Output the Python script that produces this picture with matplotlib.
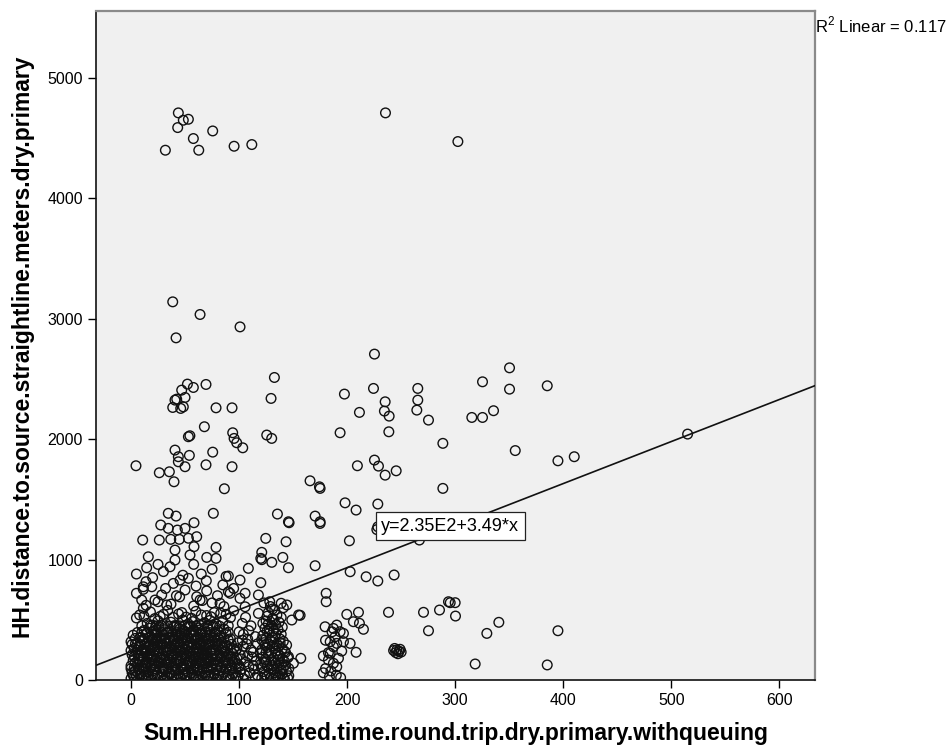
import numpy as np
import matplotlib
matplotlib.use("Agg")
import matplotlib.pyplot as plt

plt.rcParams['font.family'] = ['Liberation Sans', 'DejaVu Sans']
plt.rcParams['mathtext.fontset'] = 'custom'
plt.rcParams['mathtext.rm'] = 'Liberation Sans'

# fit reported by SPSS
intercept = 235.0
slope = 3.49
r2_text = r'R$^\mathrm{2}$ Linear = 0.117'
eq_text = 'y=2.35E2+3.49*x'

x_label = 'Sum.HH.reported.time.round.trip.dry.primary.withqueuing'
y_label = 'HH.distance.to.source.straightline.meters.dry.primary'
x_ticks = [0, 100, 200, 300, 400, 500, 600]
y_ticks = [0, 1000, 2000, 3000, 4000, 5000]

# far outliers (distance > 2500)
high_pts = [
    (43.8, 4709), (48.4, 4648), (53.1, 4656), (43.2, 4587), (57.7, 4496),
    (75.6, 4559), (31.8, 4399), (62.7, 4399), (95.4, 4432), (111.8, 4446),
    (235.5, 4709), (302.5, 4471), (38.6, 3140), (63.9, 3035), (100.9, 2932),
    (41.7, 2841), (225.3, 2706), (350.3, 2592), (132.7, 2512),
]

# middle band 1000 - 2500
mid_pts = [
    (129.6, 2338), (52.2, 2457), (46.9, 2407), (57.7, 2429), (69.4, 2454),
    (42.3, 2332), (38.6, 2263), (46.0, 2255), (50.0, 2346), (40.7, 2324),
    (48.4, 2268), (78.7, 2260), (93.5, 2260), (197.5, 2374), (224.4, 2421),
    (235.2, 2310), (234.5, 2233), (238.9, 2191), (211.4, 2222), (265.4, 2421),
    (265.4, 2324), (264.5, 2241), (275.3, 2158), (325.3, 2476), (385.2, 2443),
    (350.3, 2415), (315.4, 2180), (325.3, 2180), (335.5, 2236), (67.9, 2103),
    (53.1, 2020), (54.5, 2028), (94.1, 2053), (95.4, 2006), (97.8, 1970),
    (103.4, 1928), (125.6, 2034), (130.2, 2006), (193.5, 2053), (238.6, 2061),
    (288.6, 1965), (355.6, 1905), (395.1, 1820), (410.2, 1854), (515.1, 2042),
    (40.7, 1909), (43.8, 1812), (54.0, 1865), (50.0, 1771), (43.8, 1854),
    (75.6, 1892), (69.4, 1787), (93.5, 1771), (4.6, 1779), (26.2, 1721),
    (35.5, 1729), (39.8, 1646), (86.4, 1588), (209.5, 1779), (225.3, 1826),
    (229.0, 1776), (235.2, 1701), (245.4, 1737), (288.6, 1591), (165.7, 1654),
    (174.4, 1604), (175.0, 1591), (198.1, 1471), (208.3, 1411), (228.4, 1461),
    (228.4, 1272), (227.5, 1249), (202.1, 1156), (76.2, 1384), (135.5, 1378),
    (145.7, 1314), (170.4, 1361), (175.0, 1314), (34.5, 1384), (41.7, 1361),
    (27.5, 1287), (34.5, 1259), (42.9, 1245), (50.0, 1259), (58.3, 1306),
    (60.8, 1190), (53.1, 1177), (44.7, 1168), (36.8, 1168), (26.2, 1162),
    (10.8, 1162), (40.7, 1079), (54.6, 1038), (58.3, 1107), (78.7, 1101),
    (70.1, 1018), (78.7, 1010), (124.7, 1176), (121.0, 1060), (120.1, 1010),
    (140.5, 1018), (143.5, 1148), (146.3, 1306), (266.9, 1162), (175.0, 1300),
    (16.0, 1023), (40.7, 996), (121.0, 999), (130.3, 977),
]

# sparse points below 1000
low_pts = [
    (14.5, 932), (36.1, 940), (145.7, 932), (170.4, 949), (108.6, 927),
    (202.8, 899), (217.6, 857), (228.4, 822), (243.5, 872), (293.8, 650),
    (285.5, 581), (270.7, 562), (275.3, 409), (238.3, 562), (180.6, 720),
    (180.6, 650), (199.7, 545), (210.5, 562), (205.8, 484), (215.1, 421),
    (208.3, 230), (295.4, 642), (300.0, 642), (300.3, 531), (318.5, 133),
    (329.3, 387), (340.4, 479), (385.2, 125), (395.1, 409), (90.1, 863),
    (100.9, 830), (120.1, 808), (69.7, 824), (13.9, 816), (11.4, 774),
    (19.2, 774), (39.2, 802), (45.4, 830), (53.1, 844), (60.2, 780),
    (9.9, 664), (11.4, 595), (22.2, 664), (33.0, 623), (50.0, 747),
    (63.9, 664), (82.4, 637), (91.7, 720), (105.6, 720), (117.9, 706),
    (144.2, 623), (155.1, 540), (11.4, 753), (28.4, 706), (60.8, 691),
    (90.1, 733), (100.9, 678), (128.4, 650), (139.0, 637), (117.9, 553),
    (105.6, 608), (148.8, 498), (145.7, 193), (157.1, 180), (150.3, 139),
    (141.0, 19), (183.6, 27), (190.4, 110), (184.3, 222), (187.3, 276),
    (196.6, 387), (190.4, 456), (179.6, 442), (188.9, 359), (182.7, 166),
    (187.3, 428), (193.5, 401), (184.3, 318), (190.4, 304), (196.6, 318),
    (202.8, 304), (182.7, 227), (187.3, 139), (156.5, 537), (211.4, 471),
    (178.0, 60), (180.0, 95), (185.0, 75), (190.0, 40), (194.0, 20),
    (192.0, 180), (178.0, 200), (195.0, 240), (180.0, 330), (186.0, 400),
    (244.0, 262), (246.0, 250), (248.0, 238), (245.0, 228), (247.0, 218),
    (249.0, 255), (243.0, 245), (250.0, 232),
    (5, 880), (20, 850), (30, 900), (48, 870), (65, 880), (75, 920),
    (85, 790), (95, 760), (25, 960), (58, 960), (32, 760), (70, 740),
    (80, 700), (5, 720), (42, 700), (88, 860),
]

# dense block of short trips close to the source
dense_pts = [
    (0, 12), (3, 20), (7, 8), (10, 25), (14, 15), (19, 5), (22, 30), (27, 18),
    (31, 10), (34, 22), (38, 28), (43, 6), (46, 16), (50, 35), (55, 12), (58, 24),
    (62, 9), (67, 19), (71, 31), (74, 14), (79, 7), (83, 26), (88, 17), (92, 11),
    (97, 20),
    (2, 42), (5, 36), (9, 45), (12, 33), (16, 40), (20, 47), (24, 38), (29, 44),
    (33, 35), (36, 48), (40, 41), (45, 32), (48, 46), (52, 39), (57, 43), (60, 34),
    (65, 47), (69, 40), (72, 36), (77, 45), (81, 38), (85, 44), (90, 33), (94, 42),
    (1, 60), (4, 75), (9, 52), (12, 88), (16, 66), (21, 80), (24, 55), (29, 70),
    (32, 90), (36, 62), (41, 78), (44, 50), (48, 85), (53, 68), (56, 58), (61, 82),
    (64, 73), (69, 61), (72, 87), (77, 54), (81, 77), (86, 65), (91, 83), (95, 59),
    (0, 95), (3, 101), (7, 92), (11, 98), (14, 90), (18, 103), (22, 94), (27, 99),
    (30, 91), (34, 104), (38, 96), (43, 92), (46, 100), (50, 95), (55, 102),
    (58, 93), (62, 98), (67, 91), (70, 103), (74, 97), (79, 94), (83, 100),
    (88, 92), (93, 99), (97, 95),
    (0, 118), (6, 132), (10, 105), (14, 140), (18, 122), (23, 110), (26, 135),
    (30, 101), (35, 128), (39, 114), (42, 138), (47, 108), (51, 125), (54, 142),
    (59, 112), (63, 130), (66, 104), (70, 136), (75, 119), (79, 127), (84, 109),
    (88, 141), (93, 121), (98, 133),
    (4, 145), (8, 150), (13, 142), (17, 148), (21, 144), (25, 151), (28, 146),
    (33, 143), (37, 149), (40, 145), (45, 152), (48, 141), (53, 147), (57, 150),
    (60, 143), (65, 148), (69, 145), (72, 151), (76, 142), (81, 149), (85, 146),
    (90, 144), (94, 150),
    (2, 160), (7, 178), (11, 152), (15, 188), (19, 170), (22, 158), (27, 184),
    (31, 165), (34, 150), (38, 192), (43, 172), (46, 161), (50, 186), (55, 155),
    (58, 176), (62, 190), (67, 163), (71, 181), (74, 154), (78, 171), (83, 187),
    (87, 158), (92, 175), (96, 166),
    (3, 195), (7, 199), (11, 193), (15, 197), (19, 194), (24, 198), (27, 192),
    (31, 196), (35, 199), (39, 193), (43, 197), (47, 195), (51, 199), (55, 192),
    (59, 196), (63, 194), (67, 198), (71, 193), (75, 197), (80, 195), (84, 199),
    (88, 192), (92, 196),
    (1, 210), (5, 228), (9, 202), (13, 236), (17, 218), (21, 206), (25, 240),
    (29, 215), (33, 230), (37, 204), (41, 222), (45, 238), (49, 211), (53, 226),
    (57, 201), (60, 233), (65, 217), (69, 208), (73, 239), (77, 224), (82, 212),
    (86, 231), (90, 205), (94, 221),
    (0, 245), (6, 248), (10, 243), (14, 247), (18, 244), (22, 249), (26, 242),
    (30, 246), (34, 248), (38, 243), (42, 247), (46, 245), (50, 249), (54, 242),
    (58, 246), (63, 244), (66, 248), (70, 243), (74, 247), (79, 245), (83, 249),
    (87, 242), (92, 246), (97, 244),
    (3, 262), (8, 278), (12, 251), (16, 286), (20, 268), (24, 255), (28, 290),
    (32, 271), (36, 258), (40, 283), (44, 266), (48, 252), (52, 288), (56, 273),
    (61, 259), (64, 281), (68, 264), (72, 292), (76, 256), (80, 277), (85, 268),
    (89, 285), (95, 260),
    (1, 295), (4, 299), (9, 293), (13, 297), (17, 294), (21, 298), (25, 292),
    (29, 296), (33, 299), (38, 293), (41, 297), (45, 295), (49, 299), (53, 292),
    (58, 296), (61, 294), (65, 298), (69, 293), (73, 297), (78, 295), (82, 299),
    (87, 292), (93, 296),
    (0, 318), (6, 305), (11, 332), (15, 312), (19, 338), (23, 321), (27, 302),
    (31, 329), (35, 314), (39, 340), (43, 307), (47, 325), (51, 336), (55, 310),
    (59, 331), (63, 303), (67, 322), (71, 339), (75, 315), (79, 327), (84, 308),
    (90, 334),
    (4, 345), (8, 348), (12, 343), (16, 347), (20, 344), (24, 349), (28, 342),
    (32, 346), (36, 348), (40, 343), (44, 347), (48, 345), (52, 349), (56, 342),
    (60, 346), (64, 344), (68, 348), (72, 343), (77, 347), (81, 345), (86, 349),
    (92, 342),
    (2, 372), (9, 355), (14, 386), (18, 362), (22, 380), (26, 351), (30, 375),
    (34, 390), (38, 358), (42, 383), (46, 366), (50, 352), (54, 388), (58, 369),
    (62, 357), (66, 384), (70, 371), (74, 353), (78, 379), (83, 364), (88, 386),
    (6, 395), (10, 398), (15, 393), (19, 397), (24, 394), (28, 398), (33, 392),
    (37, 396), (42, 399), (47, 393), (51, 397), (56, 395), (60, 399), (64, 392),
    (69, 396), (73, 394), (78, 398), (83, 393), (90, 397),
    (12, 412), (17, 430), (21, 405), (26, 440), (31, 418), (35, 402), (40, 436),
    (45, 422), (49, 409), (53, 443), (58, 415), (62, 432), (66, 404), (71, 427),
    (76, 438), (80, 411), (86, 425),
    (10, 450), (18, 455), (23, 448), (28, 452), (34, 447), (40, 451), (45, 449),
    (50, 453), (55, 446), (60, 450), (65, 454), (71, 448), (76, 452), (82, 447),
    (90, 451),
    (15, 470), (20, 455), (25, 492), (30, 462), (37, 480), (42, 452), (48, 498),
    (53, 466), (57, 485), (63, 458), (68, 476), (73, 495), (79, 463), (85, 488),
    (5, 515), (12, 530), (22, 510), (30, 545), (39, 520), (47, 560), (56, 512),
    (65, 540), (74, 525), (83, 555), (92, 518),
    (8, 540), (18, 565), (27, 528), (34, 578), (44, 548), (51, 522), (60, 570),
    (70, 535), (77, 560), (88, 545), (95, 575),
    (14, 620), (25, 650), (37, 630), (45, 690), (58, 615), (66, 660), (75, 640),
    (86, 610),
    # gap column 98 - 118
    (99, 30), (102, 90), (106, 150), (101, 210), (110, 60), (113, 120),
    (104, 280), (108, 340), (115, 20), (111, 250), (100, 400), (112, 190),
    (117, 300), (103, 470), (100, 120), (105, 45), (108, 200), (114, 90),
    (103, 330), (109, 410), (116, 160), (98, 260), (106, 520),
    (101, 65), (104, 12), (109, 110), (117, 40), (102, 175), (113, 230),
    (99, 310), (107, 300), (115, 360), (104, 380), (111, 450), (98, 180),
    # second dense column 120 - 147
    (121, 15), (126, 30), (131, 10), (136, 25), (142, 8), (146, 35),
    (124, 45), (129, 20), (134, 40), (140, 50), (145, 15),
    (123, 70), (128, 95), (133, 60), (139, 85), (144, 70),
    (121, 100), (126, 115), (135, 100), (141, 105), (146, 95),
    (120, 130), (125, 150), (131, 120), (137, 140), (143, 125),
    (124, 170), (130, 160), (136, 165), (142, 155),
    (122, 190), (127, 210), (132, 180), (138, 200), (145, 185),
    (120, 220), (125, 230), (130, 225), (136, 220), (143, 230),
    (121, 250), (126, 270), (134, 240), (140, 260),
    (124, 290), (131, 285), (137, 280), (144, 290),
    (123, 310), (129, 330), (135, 300), (141, 320),
    (125, 345), (131, 350), (138, 340),
    (122, 370), (128, 390), (133, 360), (139, 380),
    (126, 405), (132, 410),
    (124, 430), (130, 450), (136, 420),
    (127, 465), (134, 460),
    (125, 490), (131, 510), (137, 480),
    (126, 530), (135, 540),
    (127, 560), (133, 580), (131, 590), (141, 600),
    (129, 610), (123, 640),
    (128, 55), (138, 62), (132, 85), (123, 150), (134, 140), (140, 175),
    (128, 245), (133, 265), (142, 240), (127, 300), (138, 310), (121, 335),
    (134, 385), (128, 425), (140, 440), (122, 470), (132, 500), (139, 520),
]

pts = np.array(high_pts + mid_pts + low_pts + dense_pts, dtype=float)

fig = plt.figure(figsize=(9.49, 7.52), dpi=100)
ax = fig.add_axes([96 / 949, 1 - 680 / 752, (815 - 96) / 949, (680 - 11) / 752])
ax.set_facecolor('#f0f0f0')

ax.scatter(pts[:, 0], pts[:, 1], s=48, facecolors='none', edgecolors='#111111',
           linewidths=1.0, zorder=2)

ax.set_xlim(-32.4, 633)
ax.set_ylim(0, 5555)

line_x = np.array(ax.get_xlim())
ax.plot(line_x, intercept + slope * line_x, color='#111111', lw=1.2, zorder=3)

ax.text(231.5, 1276, eq_text, fontsize=13, va='center', ha='left', zorder=4,
        bbox=dict(boxstyle='square,pad=0.3', fc='white', ec='#222222', lw=0.9))

fig.text(815 / 949, 1 - 25 / 752, r2_text, fontsize=12, ha='left', va='center')

ax.set_xticks(x_ticks)
ax.set_yticks(y_ticks)
ax.tick_params(direction='out', length=5.5, width=1, labelsize=11.5, pad=4)
ax.set_xlabel(x_label, fontsize=16.5, fontweight='bold', labelpad=10)
ax.set_ylabel(y_label, fontsize=16.5, fontweight='bold', labelpad=10)

for side in ['left', 'bottom']:
    ax.spines[side].set_color('#111111')
    ax.spines[side].set_linewidth(1.2)
for side in ['top', 'right']:
    ax.spines[side].set_color('#8a8a8a')
    ax.spines[side].set_linewidth(1.6)

fig.savefig('out.png', dpi=100)
